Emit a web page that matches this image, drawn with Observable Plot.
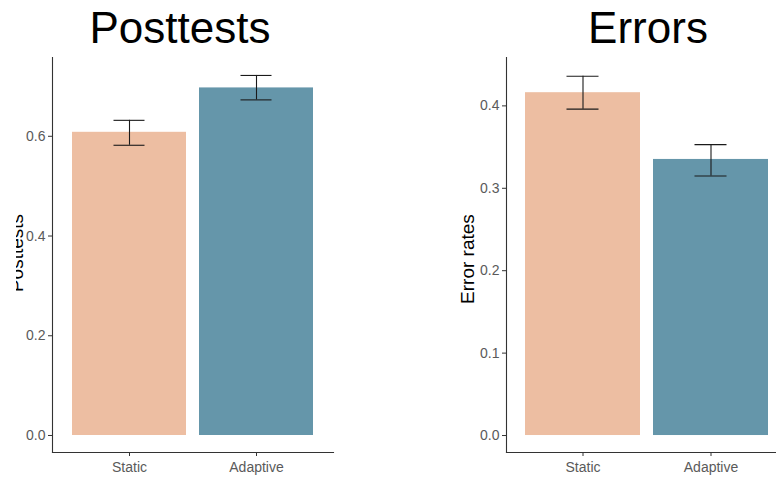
<!DOCTYPE html>
<html>
<head>
<meta charset="utf-8">
<script src="https://cdn.jsdelivr.net/npm/d3@7"></script>
<script src="https://cdn.jsdelivr.net/npm/@observablehq/plot@0.6"></script>
<style>
  html, body { margin: 0; padding: 0; background: #fff; overflow: hidden; }
  #wrap { position: relative; width: 776px; height: 478px; overflow: hidden; font-family: "Liberation Sans", Arial, sans-serif; }
  #wrap > svg { position: absolute; top: 0; }
</style>
</head>
<body>
<div id="wrap"></div>
<script>
// ---- data ----
const conditions = ["Static", "Adaptive"];
const barColors = ["#EDBEA2", "#6596AA"];

const posttestMean = [0.608, 0.697];
const posttestLow = [0.582, 0.673];
const posttestHigh = [0.632, 0.722];
const posttestTicks = [0, 0.2, 0.4, 0.6];

const errorMean = [0.416, 0.335];
const errorLow = [0.396, 0.315];
const errorHigh = [0.436, 0.353];
const errorTicks = [0, 0.1, 0.2, 0.3, 0.4];

const titles = ["Posttests", "Errors"];
const yLabels = ["Posttests", "Error rates"];

function rows(mean, low, high) {
  return conditions.map((c, i) => ({cond: c, mean: mean[i], low: low[i], high: high[i]}));
}

function panel(data, ticks, yDomain, opts) {
  return Plot.plot({
    width: opts.width,
    height: 478,
    marginLeft: opts.marginLeft,
    marginRight: opts.marginRight,
    marginTop: 57,
    marginBottom: 26,
    style: {fontFamily: '"Liberation Sans", Arial, sans-serif', fontSize: "14px", color: "#4d4d4d", background: "transparent", overflow: "visible"},
    x: {domain: conditions, paddingInner: 0.1, paddingOuter: 0.15, label: null},
    y: {domain: yDomain, label: null},
    color: {domain: conditions, range: barColors},
    marks: [
      Plot.barY(data, {x: "cond", y1: 0, y2: "mean", fill: "cond"}),
      Plot.ruleX(data, {x: "cond", y1: "low", y2: "high", stroke: "#1a1a1a", strokeWidth: 1.1}),
      Plot.tickY(data, {x: "cond", y: "low", stroke: "#1a1a1a", strokeWidth: 1.1, insetLeft: 41.5, insetRight: 41.5}),
      Plot.tickY(data, {x: "cond", y: "high", stroke: "#1a1a1a", strokeWidth: 1.1, insetLeft: 41.5, insetRight: 41.5}),
      Plot.axisY({ticks: ticks, tickFormat: d3.format(".1f"), tickSize: 4, tickPadding: 3, label: null, stroke: "#333", fill: "#5a5a5a"}),
      Plot.axisX({tickSize: 4, tickPadding: 5.5, label: null, stroke: "#333", fill: "#5a5a5a"}),
      Plot.frame({anchor: "left", stroke: "#333", strokeWidth: 1.1}),
      Plot.frame({anchor: "bottom", stroke: "#333", strokeWidth: 1.1})
    ]
  });
}

const wrap = document.getElementById("wrap");

const left = panel(rows(posttestMean, posttestLow, posttestHigh), posttestTicks, [-0.0341, 0.758],
  {width: 440, marginLeft: 52, marginRight: 107});
left.style.left = "0px";
wrap.appendChild(left);

const right = panel(rows(errorMean, errorLow, errorHigh), errorTicks, [-0.0206, 0.4587],
  {width: 348, marginLeft: 66, marginRight: 0});
right.style.left = "440px";
wrap.appendChild(right);

// overlay: titles and y-axis labels
const ov = d3.create("svg").attr("width", 776).attr("height", 478)
  .style("position", "absolute").style("left", "0px").style("top", "0px")
  .style("pointer-events", "none")
  .style("font-family", '"Liberation Sans", Arial, sans-serif');

ov.append("defs").append("clipPath").attr("id", "lclip")
  .append("rect").attr("x", 16).attr("y", 0).attr("width", 60).attr("height", 478);

ov.append("text").attr("x", 180).attr("y", 43).attr("text-anchor", "middle")
  .attr("font-size", 44).attr("fill", "#000").text(titles[0]);
ov.append("text").attr("x", 648).attr("y", 43).attr("text-anchor", "middle")
  .attr("font-size", 44).attr("fill", "#000").text(titles[1]);

ov.append("g").attr("clip-path", "url(#lclip)")
  .append("text").attr("transform", "translate(23,253) rotate(-90)")
  .attr("text-anchor", "middle").attr("font-size", 19).attr("fill", "#000")
  .text(yLabels[0]);
ov.append("text").attr("transform", "translate(474,259) rotate(-90)")
  .attr("text-anchor", "middle").attr("font-size", 19).attr("fill", "#000")
  .text(yLabels[1]);

wrap.appendChild(ov.node());
</script>
</body>
</html>
